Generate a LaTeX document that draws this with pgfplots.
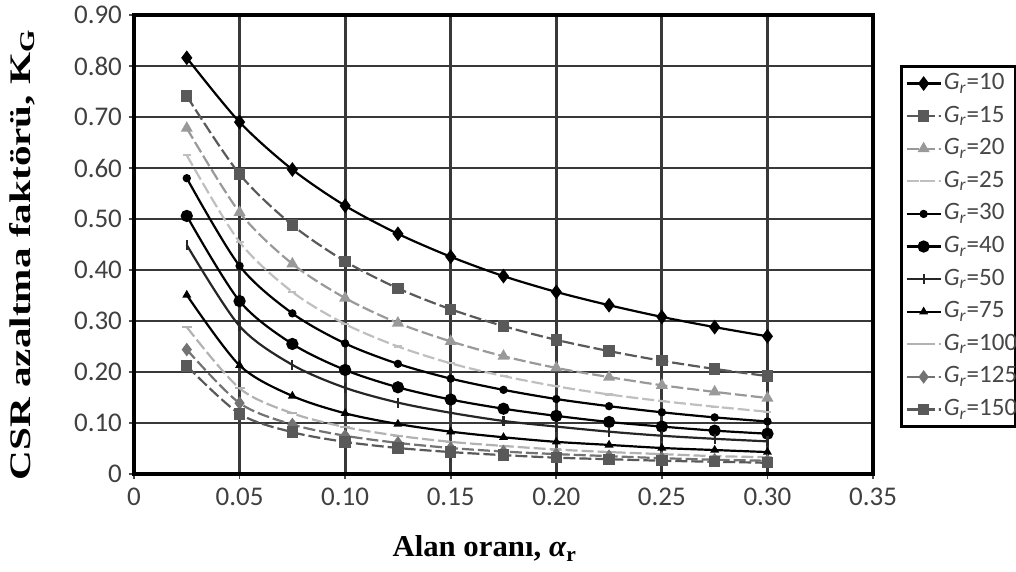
\documentclass[border=0pt]{standalone}
\usepackage{graphicx}
\usepackage{pgfplots}
\usepackage{pgfplotstable}
\pgfplotsset{compat=1.18}
\usepackage{fontspec}
\setmainfont{Carlito}
\newfontfamily\labelfont{Liberation Serif}
\newcommand\Gr[1]{\makebox[33pt][l]{\textit{G}\textsubscript{\textit{r}}=#1}}

% K_G against area ratio, one column per G_r
\pgfplotstableread{
a g10 g15 g20 g25 g30 g40 g50 g75 g100 g125 g150
0.025 0.816 0.741 0.678 0.625 0.580 0.506 0.449 0.351 0.288 0.244 0.212
0.050 0.690 0.588 0.513 0.455 0.408 0.339 0.290 0.213 0.168 0.139 0.118
0.075 0.597 0.488 0.412 0.357 0.315 0.255 0.214 0.153 0.119 0.097 0.082
0.100 0.526 0.417 0.345 0.294 0.256 0.204 0.169 0.119 0.092 0.075 0.063
0.125 0.471 0.364 0.296 0.250 0.216 0.170 0.140 0.098 0.075 0.061 0.051
0.150 0.426 0.323 0.260 0.217 0.187 0.146 0.120 0.083 0.063 0.051 0.043
0.175 0.388 0.290 0.231 0.192 0.165 0.128 0.104 0.072 0.055 0.044 0.037
0.200 0.357 0.263 0.208 0.172 0.147 0.114 0.093 0.063 0.048 0.039 0.032
0.225 0.331 0.241 0.190 0.156 0.133 0.102 0.083 0.057 0.043 0.035 0.029
0.250 0.308 0.222 0.174 0.143 0.121 0.093 0.075 0.051 0.039 0.031 0.026
0.275 0.288 0.206 0.161 0.132 0.111 0.085 0.069 0.047 0.035 0.028 0.024
0.300 0.270 0.192 0.149 0.122 0.103 0.079 0.064 0.043 0.033 0.026 0.022
}\datatable

\begin{document}
\begin{tikzpicture}
\path[use as bounding box] (-67pt,-49pt) rectangle (441pt,237pt);
\begin{axis}[
  at={(0,0)}, anchor=south west,
  scale only axis, width=369.5pt, height=229.5pt,
  xmin=0, xmax=0.35, ymin=0, ymax=0.9,
  xtick={0,0.05,0.1,0.15,0.2,0.25,0.3,0.35},
  xticklabels={0,0.05,0.10,0.15,0.20,0.25,0.30,0.35},
  ytick={0,0.1,0.2,0.3,0.4,0.5,0.6,0.7,0.8,0.9},
  yticklabels={0,0.10,0.20,0.30,0.40,0.50,0.60,0.70,0.80,0.90},
  grid=major,
  major grid style={line width=1.4pt, color=black!78},
  axis line style={line width=1.6pt, black},
  tick align=outside, tick pos=left,
  major tick length=2.5pt,
  tick style={line width=0.8pt, black!70},
  ticklabel style={font=\fontsize{13.5}{14}\selectfont, text=black!75},
  xticklabel style={yshift=-1pt},
  xlabel={\resizebox{92.5pt}{10.5pt}{\labelfont\bfseries Alan oranı, \textit{α}\textsubscript{r}}},
  xlabel style={at={(axis description cs:0.475,-0.163)}, anchor=center},
  ylabel={\resizebox{226pt}{10.5pt}{\labelfont\bfseries CSR azaltma faktörü, K\textsubscript{G}}},
  ylabel style={at={(axis description cs:-0.1516,0.479)}, anchor=center, rotate=0},
  legend style={at={(axis description cs:1.0365,0.891)}, anchor=north west,
    draw=black, line width=1.5pt, inner sep=2pt, row sep=3.3pt,
    font=\fontsize{12.5}{13}\selectfont, text=black!72,
    nodes={inner sep=1pt, text height=8.5pt, text depth=2.5pt}},
  legend cell align=left,
  every axis plot/.append style={smooth, line width=1.1pt},
]
\addplot[black, mark=diamond*, mark size=2.8pt, mark options={solid}] table[x=a,y=g10] {\datatable};
\addlegendentry{\Gr{10}}
\addplot[black!65, dash pattern=on 6pt off 2pt, mark=square*, mark size=2.3pt, mark options={solid}] table[x=a,y=g15] {\datatable};
\addlegendentry{\Gr{15}}
\addplot[black!40, dash pattern=on 6pt off 2pt, mark=triangle*, mark size=2.4pt, mark options={solid}] table[x=a,y=g20] {\datatable};
\addlegendentry{\Gr{20}}
\addplot[black!25, dash pattern=on 6pt off 2pt, mark=-, mark size=2pt, mark options={solid}] table[x=a,y=g25] {\datatable};
\addlegendentry{\Gr{25}}
\addplot[black, mark=*, mark size=1.5pt] table[x=a,y=g30] {\datatable};
\addlegendentry{\Gr{30}}
\addplot[black, mark=*, mark size=2.5pt] table[x=a,y=g40] {\datatable};
\addlegendentry{\Gr{40}}
\addplot[black!85, mark=|, mark size=2.5pt] table[x=a,y=g50] {\datatable};
\addlegendentry{\Gr{50}}
\addplot[black, mark=triangle*, mark size=1.5pt] table[x=a,y=g75] {\datatable};
\addlegendentry{\Gr{75}}
\addplot[black!30, dash pattern=on 6pt off 2pt, mark=-, mark size=2.5pt, mark options={solid}] table[x=a,y=g100] {\datatable};
\addlegendentry{\Gr{100}}
\addplot[black!55, dash pattern=on 6pt off 2pt, mark=diamond*, mark size=2.5pt, mark options={solid}] table[x=a,y=g125] {\datatable};
\addlegendentry{\Gr{125}}
\addplot[black!65, dash pattern=on 6pt off 2pt, mark=square*, mark size=2.3pt, mark options={solid}] table[x=a,y=g150] {\datatable};
\addlegendentry{\Gr{150}}
\end{axis}
\end{tikzpicture}
\end{document}
